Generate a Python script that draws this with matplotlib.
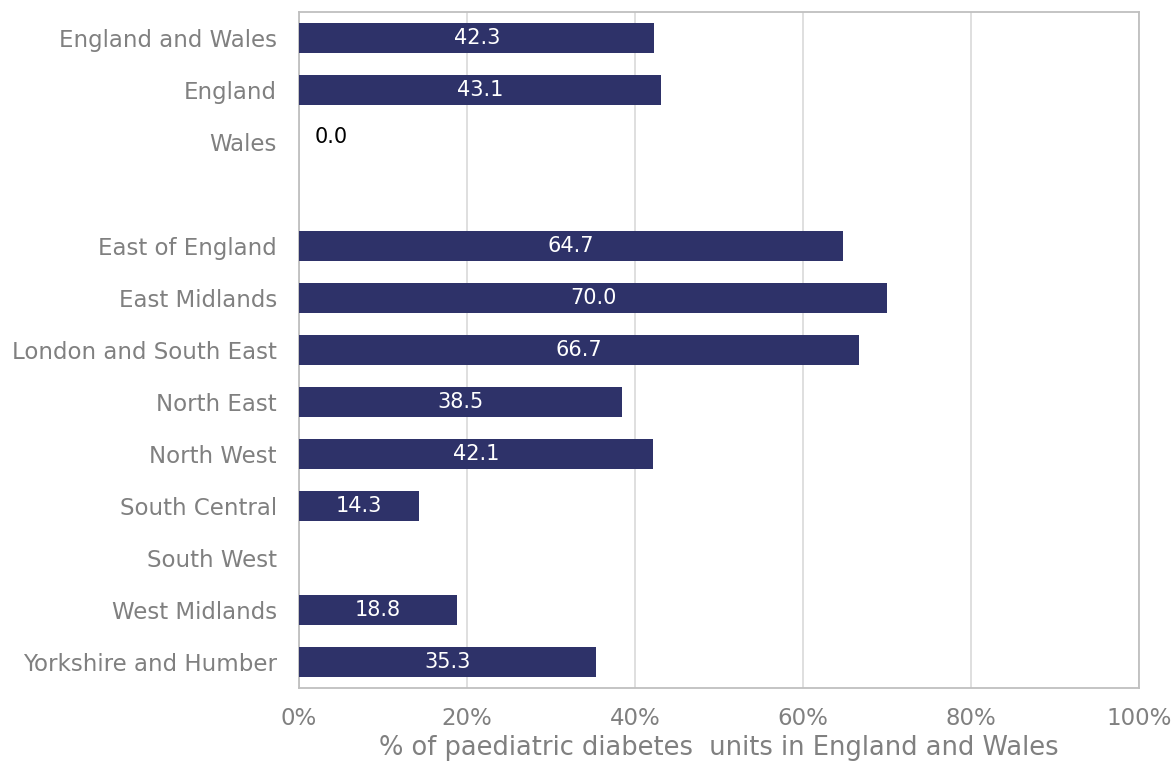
import matplotlib
matplotlib.use('Agg')
import matplotlib.pyplot as plt
import matplotlib.transforms as mtransforms
import numpy as np

regions = ['England and Wales', 'England', 'Wales', '',
           'East of England', 'East Midlands', 'London and South East',
           'North East', 'North West', 'South Central', 'South West',
           'West Midlands', 'Yorkshire and Humber']
values = [42.3, 43.1, 0.0, np.nan,
          64.7, 70.0, 66.7,
          38.5, 42.1, 14.3, np.nan,
          18.8, 35.3]
xticks = [0, 20, 40, 60, 80, 100]

bar_col = '#2E3269'
grey = '#808080'

plt.rcParams['font.family'] = ['DejaVu Sans']

fig = plt.figure(figsize=(11.75, 7.67), dpi=100)
ax = fig.add_axes([0.2545, 0.103, 0.7149, 0.8814])

y = np.arange(len(regions))
vals = np.array(values, dtype=float)
ax.barh(y, np.nan_to_num(vals), height=0.58, color=bar_col, zorder=3)

for yi, v in zip(y, vals):
    if np.isnan(v):
        continue
    if v > 5:
        ax.text(v / 2, yi, f'{v:.1f}', ha='center', va='center',
                color='white', fontsize=15, zorder=4)
    else:
        ax.text(v + 1.8, yi - 0.1, f'{v:.1f}', ha='left', va='center',
                color='black', fontsize=15, zorder=4)

ax.set_yticks(y)
ax.set_yticklabels(regions, fontsize=16.5, color=grey)
shift = mtransforms.ScaledTranslation(0, 2 / 72, fig.dpi_scale_trans)
for lbl in ax.get_yticklabels():
    lbl.set_transform(lbl.get_transform() + shift)
ax.set_ylim(len(regions) - 0.5, -0.5)
ax.set_xlim(0, 100)
ax.set_xticks(xticks)
ax.set_xticklabels([f'{t}%' for t in xticks], fontsize=16.5, color=grey)
ax.tick_params(axis='x', length=0, pad=14)
ax.tick_params(axis='y', length=0, pad=16)
ax.grid(axis='x', color='#D9D9D9', linewidth=1.2, zorder=0)
for s in ax.spines.values():
    s.set_color('#BFBFBF')
    s.set_linewidth(1.3)
ax.set_xlabel('% of paediatric diabetes  units in England and Wales',
              fontsize=18.5, color=grey, labelpad=3)

fig.savefig('out.png', dpi=100)
